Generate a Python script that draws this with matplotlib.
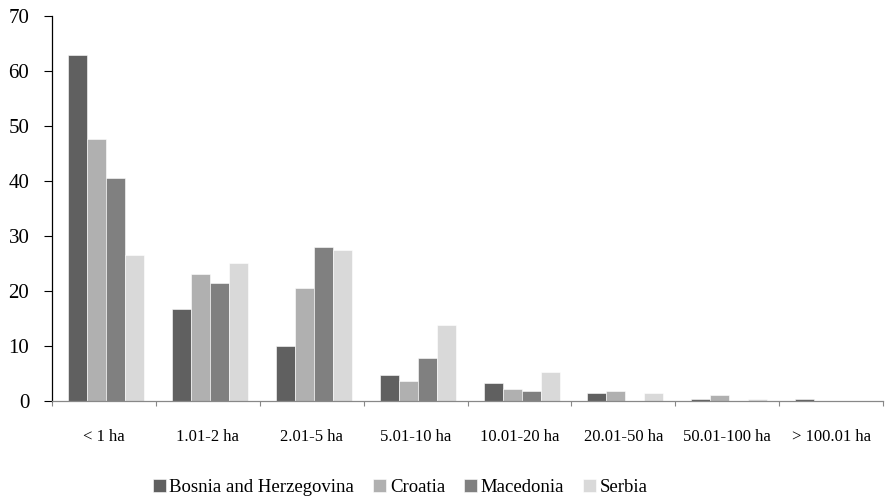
import numpy as np
import matplotlib
matplotlib.use("Agg")
import matplotlib.pyplot as plt

plt.rcParams['font.family'] = ['Liberation Serif', 'DejaVu Serif']

categories = ['< 1 ha', '1.01-2 ha', '2.01-5 ha', '5.01-10 ha', '10.01-20 ha',
              '20.01-50 ha', '50.01-100 ha', '> 100.01 ha']
bosnia = [63.0, 16.7, 10.0, 4.7, 3.3, 1.45, 0.3, 0.3]
croatia = [47.6, 23.1, 20.5, 3.6, 2.2, 1.8, 1.1, 0.0]
macedonia = [40.6, 21.4, 28.0, 7.9, 1.8, 0.0, 0.0, 0.0]
serbia = [26.5, 25.1, 27.4, 13.8, 5.3, 1.45, 0.3, 0.0]

series = [('Bosnia and Herzegovina', bosnia, '#606060'),
          ('Croatia', croatia, '#b0b0b0'),
          ('Macedonia', macedonia, '#808080'),
          ('Serbia', serbia, '#d9d9d9')]

fig = plt.figure(figsize=(8.92, 5.04), dpi=100)
ax = fig.add_axes([0.0583, 0.2044, 0.9317, 0.7636])

x = np.arange(len(categories))
w = 0.183
for i, (name, vals, col) in enumerate(series):
    ax.bar(x + (i - 1.5) * w + 0.02, vals, width=w, color=col,
           edgecolor='white', linewidth=0.4, label=name)

ax.set_xlim(-0.5, len(categories) - 0.5)
ax.set_ylim(0, 70)
ax.set_yticks(range(0, 71, 10))
ax.tick_params(axis='y', labelsize=15, length=5.8, width=0.8, pad=10.5)

# category boundaries carry the tick marks, labels sit at the centres
ax.set_xticks(np.arange(len(categories) + 1) - 0.5)
ax.set_xticklabels([])
ax.set_xticks(x, minor=True)
ax.set_xticklabels(categories, minor=True, fontsize=12)
ax.tick_params(axis='x', which='major', length=3.8, width=0.8, color='#888888')
ax.tick_params(axis='x', which='minor', length=0, pad=20)

for s in ['top', 'right']:
    ax.spines[s].set_visible(False)
ax.spines['left'].set_linewidth(0.9)
ax.spines['bottom'].set_color('#888888')
ax.spines['bottom'].set_linewidth(0.9)

ax.legend(loc='center', bbox_to_anchor=(0.419, -0.225), ncol=4, frameon=False,
          fontsize=13.5, handlelength=0.7, handleheight=0.7, handletextpad=0.2,
          columnspacing=1.0)

fig.savefig('out.png', dpi=100)
